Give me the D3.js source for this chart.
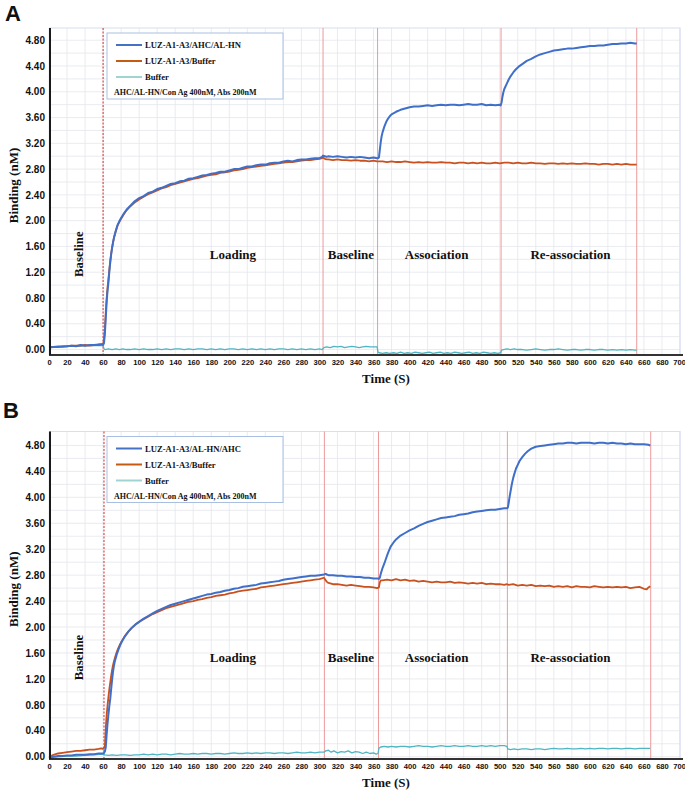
<!DOCTYPE html>
<html>
<head>
<meta charset="utf-8">
<script src="https://cdnjs.cloudflare.com/ajax/libs/d3/7.8.5/d3.min.js"></script>
<style>
  body { margin: 0; background: #fff; }
  svg text { font-family: "Liberation Serif", "Times New Roman", serif; font-weight: bold; fill: #111; }
  .ytick text, .xtick text, .tag { font-family: "Liberation Sans", Arial, sans-serif; font-weight: bold; }
</style>
</head>
<body>
<svg id="chart" width="685" height="793"></svg>
<script>
// ---- ticks ----
const xTicks = [0,20,40,60,80,100,120,140,160,180,200,220,240,260,280,300,320,340,360,380,400,420,440,460,480,500,520,540,560,580,600,620,640,660,680,700];
const yTicks = [0,0.4,0.8,1.2,1.6,2.0,2.4,2.8,3.2,3.6,4.0,4.4,4.8];
const yGrid = [0,0.2,0.4,0.6,0.8,1.0,1.2,1.4,1.6,1.8,2.0,2.2,2.4,2.6,2.8,3.0,3.2,3.4,3.6,3.8,4.0,4.2,4.4,4.6,4.8];

// ---- phase boundaries (s) ----
const phaseA = [60, 304, 364.5, 501.5, 652];
const phaseB = [61, 305.5, 365.5, 508.5, 667.5];

const namesA = ["LUZ-A1-A3/AHC/AL-HN", "LUZ-A1-A3/Buffer", "Buffer"];
const namesB = ["LUZ-A1-A3/AL-HN/AHC", "LUZ-A1-A3/Buffer", "Buffer"];
const note = "AHC/AL-HN/Con Ag 400nM, Abs 200nM";
const phaseNames = ["Baseline", "Loading", "Baseline", "Association", "Re-association"];

// ---- panel A series [time, nM] ----
const blueA = [[0,0.03],[5,0.04],[10,0.04],[15,0.05],[20,0.05],[25,0.06],[30,0.05],[35,0.07],[40,0.06],[45,0.07],[50,0.07],[55,0.08],[59,0.08],[60,0.07],[61,0.10],[62,0.25],[63,0.50],[64,0.75],[65,0.92],[66,1.05],[67,1.22],[68,1.36],[69,1.48],[70,1.58],[71,1.66],[72,1.73],[74,1.84],[76,1.93],[78,1.99],[80,2.04],[83,2.11],[86,2.17],[90,2.23],[95,2.30],[100,2.35],[105,2.38],[110,2.43],[115,2.45],[120,2.49],[125,2.51],[130,2.54],[135,2.57],[140,2.58],[145,2.61],[150,2.62],[155,2.65],[160,2.66],[165,2.68],[170,2.70],[175,2.71],[180,2.73],[185,2.74],[190,2.76],[195,2.76],[200,2.78],[205,2.80],[210,2.80],[215,2.82],[220,2.84],[225,2.84],[230,2.86],[235,2.87],[240,2.87],[245,2.89],[250,2.90],[255,2.90],[260,2.92],[265,2.93],[270,2.92],[275,2.94],[280,2.95],[285,2.95],[290,2.96],[295,2.97],[300,2.97],[303,2.99],[304,3.01],[306,3.00],[308,2.99],[310,3.00],[315,2.99],[320,3.00],[325,2.99],[330,2.98],[335,2.99],[340,2.98],[345,2.99],[350,2.98],[355,2.97],[360,2.98],[364,2.97],[365,2.97],[366,2.98],[367,3.10],[368,3.22],[369,3.31],[370,3.37],[372,3.46],[374,3.53],[376,3.58],[378,3.62],[380,3.65],[385,3.69],[390,3.72],[395,3.74],[400,3.76],[405,3.77],[410,3.77],[415,3.78],[420,3.79],[425,3.78],[430,3.79],[435,3.80],[440,3.79],[445,3.80],[450,3.80],[455,3.79],[460,3.80],[465,3.81],[470,3.80],[475,3.80],[480,3.81],[485,3.79],[490,3.80],[495,3.79],[500,3.80],[501,3.79],[502,3.83],[503,3.92],[504,3.99],[505,4.04],[506,4.07],[508,4.13],[510,4.19],[512,4.24],[515,4.30],[518,4.35],[521,4.39],[525,4.43],[530,4.48],[535,4.51],[540,4.55],[545,4.58],[550,4.60],[555,4.62],[560,4.64],[565,4.65],[570,4.66],[575,4.67],[580,4.67],[585,4.68],[590,4.69],[595,4.70],[600,4.71],[605,4.71],[610,4.72],[615,4.72],[620,4.73],[625,4.74],[630,4.74],[635,4.75],[640,4.75],[645,4.76],[650,4.75],[652,4.75]];

const redA = [[0,0.04],[5,0.04],[10,0.05],[15,0.04],[20,0.05],[25,0.06],[30,0.06],[35,0.06],[40,0.07],[45,0.06],[50,0.07],[55,0.07],[59,0.08],[60,0.08],[61,0.15],[62,0.32],[63,0.58],[64,0.80],[65,0.97],[66,1.10],[67,1.25],[68,1.38],[69,1.49],[70,1.58],[71,1.66],[72,1.73],[74,1.83],[76,1.92],[78,1.98],[80,2.03],[83,2.10],[86,2.16],[90,2.22],[95,2.28],[100,2.33],[105,2.37],[110,2.41],[115,2.44],[120,2.47],[125,2.50],[130,2.52],[135,2.55],[140,2.57],[145,2.59],[150,2.61],[155,2.63],[160,2.65],[165,2.66],[170,2.68],[175,2.70],[180,2.71],[185,2.72],[190,2.74],[195,2.75],[200,2.76],[205,2.78],[210,2.79],[215,2.80],[220,2.82],[225,2.83],[230,2.84],[235,2.85],[240,2.86],[245,2.87],[250,2.88],[255,2.89],[260,2.90],[265,2.91],[270,2.91],[275,2.92],[280,2.93],[285,2.94],[290,2.94],[295,2.95],[300,2.96],[303,2.97],[304,2.98],[306,2.96],[308,2.95],[310,2.95],[315,2.94],[320,2.95],[325,2.94],[330,2.94],[335,2.93],[340,2.94],[345,2.93],[350,2.93],[355,2.92],[360,2.93],[364,2.92],[370,2.92],[375,2.91],[380,2.92],[385,2.91],[390,2.91],[395,2.92],[400,2.91],[405,2.90],[410,2.91],[415,2.90],[420,2.91],[425,2.90],[430,2.90],[435,2.91],[440,2.90],[445,2.90],[450,2.89],[455,2.90],[460,2.90],[465,2.89],[470,2.90],[475,2.89],[480,2.90],[485,2.89],[490,2.89],[495,2.90],[500,2.89],[505,2.90],[510,2.90],[515,2.89],[520,2.90],[525,2.89],[530,2.89],[535,2.90],[540,2.89],[545,2.89],[550,2.88],[555,2.89],[560,2.89],[565,2.88],[570,2.89],[575,2.88],[580,2.89],[585,2.88],[590,2.88],[595,2.89],[600,2.88],[605,2.88],[610,2.87],[615,2.88],[620,2.88],[625,2.87],[630,2.88],[635,2.87],[640,2.88],[645,2.87],[650,2.87],[652,2.87]];

const cyanA = [[0,0.03],[10,0.04],[20,0.05],[30,0.05],[40,0.06],[50,0.06],[60,0.06],[61,0.01],[62,0.00],[66,0.01],[70,0.00],[74,0.01],[78,0.00],[82,0.01],[86,0.00],[90,0.00],[95,0.01],[100,0.00],[105,0.01],[110,0.00],[115,0.00],[120,0.01],[125,0.00],[130,0.01],[135,0.00],[140,0.01],[145,0.01],[150,0.00],[155,0.01],[160,0.00],[165,0.01],[170,0.01],[175,0.00],[180,0.01],[185,0.00],[190,0.01],[195,0.00],[200,0.01],[205,0.01],[210,0.00],[215,0.01],[220,0.00],[225,0.01],[230,0.00],[235,0.01],[240,0.00],[245,0.01],[250,0.00],[255,0.01],[260,0.01],[265,0.00],[270,0.01],[275,0.00],[280,0.01],[285,0.00],[290,0.01],[295,0.00],[300,0.01],[303,0.00],[305,0.03],[308,0.04],[312,0.03],[316,0.05],[320,0.04],[324,0.05],[328,0.03],[332,0.04],[336,0.05],[340,0.04],[344,0.03],[348,0.04],[352,0.05],[356,0.04],[360,0.04],[364,0.04],[365,-0.04],[366,-0.05],[370,-0.06],[374,-0.05],[378,-0.06],[382,-0.05],[386,-0.06],[390,-0.04],[394,-0.06],[398,-0.05],[402,-0.06],[406,-0.04],[410,-0.05],[414,-0.06],[418,-0.05],[422,-0.04],[426,-0.06],[430,-0.05],[434,-0.04],[438,-0.06],[442,-0.05],[446,-0.06],[450,-0.04],[454,-0.05],[458,-0.06],[462,-0.05],[466,-0.04],[470,-0.06],[474,-0.05],[478,-0.06],[482,-0.04],[486,-0.05],[490,-0.06],[494,-0.05],[498,-0.06],[501,-0.05],[502,-0.01],[504,0.00],[508,0.01],[512,0.00],[516,0.01],[520,0.00],[525,0.00],[530,-0.01],[535,0.00],[540,0.01],[545,0.00],[550,-0.01],[555,0.00],[560,0.00],[565,0.01],[570,0.00],[575,-0.01],[580,0.00],[585,0.00],[590,-0.01],[595,0.00],[600,0.00],[605,-0.01],[610,0.00],[615,0.00],[620,-0.01],[625,0.00],[630,-0.01],[635,0.00],[640,-0.01],[645,0.00],[650,-0.01],[652,-0.01]];

// ---- panel B series [time, nM] ----
const blueB = [[0,-0.02],[5,0.00],[10,0.01],[15,0.01],[20,0.02],[25,0.02],[30,0.03],[35,0.03],[40,0.03],[45,0.04],[50,0.04],[55,0.05],[60,0.05],[61,0.06],[62,0.08],[63,0.15],[64,0.35],[65,0.52],[66,0.66],[67,0.79],[68,0.90],[69,1.05],[70,1.19],[71,1.31],[72,1.40],[73,1.47],[75,1.57],[77,1.65],[79,1.72],[81,1.78],[84,1.85],[88,1.93],[92,1.99],[96,2.04],[100,2.08],[105,2.13],[110,2.17],[115,2.21],[120,2.25],[125,2.28],[130,2.31],[135,2.34],[140,2.36],[145,2.38],[150,2.40],[155,2.42],[160,2.44],[165,2.46],[170,2.48],[175,2.50],[180,2.51],[185,2.53],[190,2.54],[195,2.56],[200,2.57],[205,2.59],[210,2.60],[215,2.62],[220,2.63],[225,2.64],[230,2.65],[235,2.67],[240,2.68],[245,2.69],[250,2.70],[255,2.71],[260,2.73],[265,2.74],[270,2.75],[275,2.76],[280,2.77],[285,2.78],[290,2.79],[295,2.79],[300,2.80],[305,2.81],[307,2.82],[308,2.81],[310,2.80],[315,2.80],[320,2.79],[325,2.79],[330,2.78],[335,2.78],[340,2.77],[345,2.77],[350,2.76],[355,2.76],[360,2.75],[365,2.75],[366,2.74],[367,2.76],[368,2.82],[370,2.91],[372,2.98],[374,3.06],[376,3.14],[379,3.24],[382,3.30],[385,3.35],[390,3.41],[395,3.45],[400,3.49],[405,3.52],[410,3.56],[415,3.59],[420,3.62],[425,3.64],[430,3.66],[435,3.68],[440,3.69],[445,3.70],[450,3.71],[455,3.73],[460,3.74],[465,3.75],[470,3.77],[475,3.78],[480,3.79],[485,3.80],[490,3.81],[495,3.81],[500,3.82],[505,3.83],[508,3.83],[509,3.84],[510,3.92],[511,4.01],[512,4.09],[513,4.17],[514,4.24],[515,4.30],[516,4.35],[518,4.44],[520,4.50],[522,4.56],[525,4.62],[528,4.67],[531,4.71],[535,4.75],[540,4.78],[545,4.79],[550,4.80],[555,4.81],[560,4.82],[565,4.83],[570,4.83],[575,4.84],[580,4.84],[585,4.83],[590,4.84],[595,4.84],[600,4.84],[605,4.83],[610,4.84],[615,4.84],[620,4.83],[625,4.84],[630,4.83],[635,4.83],[640,4.82],[645,4.83],[650,4.82],[655,4.82],[660,4.82],[665,4.81],[667,4.80]];

const redB = [[0,0.00],[5,0.03],[10,0.05],[15,0.06],[20,0.07],[25,0.08],[30,0.09],[35,0.09],[40,0.10],[45,0.11],[50,0.11],[55,0.12],[58,0.13],[60,0.12],[61,0.14],[62,0.16],[63,0.45],[64,0.65],[65,0.80],[66,0.93],[67,1.05],[68,1.15],[69,1.25],[70,1.34],[71,1.41],[72,1.47],[73,1.52],[75,1.61],[77,1.68],[79,1.74],[81,1.79],[84,1.86],[88,1.93],[92,1.99],[96,2.04],[100,2.08],[105,2.12],[110,2.16],[115,2.20],[120,2.23],[125,2.26],[130,2.29],[135,2.31],[140,2.33],[145,2.35],[150,2.37],[155,2.39],[160,2.40],[165,2.42],[170,2.43],[175,2.45],[180,2.46],[185,2.48],[190,2.49],[195,2.50],[200,2.52],[205,2.53],[210,2.55],[215,2.56],[220,2.57],[225,2.58],[230,2.59],[235,2.61],[240,2.62],[245,2.63],[250,2.64],[255,2.65],[260,2.66],[265,2.67],[270,2.68],[275,2.69],[280,2.70],[285,2.71],[290,2.72],[295,2.73],[300,2.74],[305,2.76],[306,2.74],[308,2.70],[310,2.68],[315,2.66],[320,2.66],[325,2.65],[330,2.64],[335,2.65],[340,2.64],[345,2.63],[350,2.62],[355,2.62],[360,2.61],[364,2.60],[366,2.61],[367,2.69],[368,2.72],[370,2.72],[375,2.73],[380,2.72],[385,2.74],[390,2.72],[395,2.73],[400,2.71],[405,2.72],[410,2.70],[415,2.71],[420,2.70],[425,2.69],[430,2.70],[435,2.69],[440,2.69],[445,2.70],[450,2.68],[455,2.69],[460,2.68],[465,2.67],[470,2.68],[475,2.67],[480,2.68],[485,2.66],[490,2.67],[495,2.66],[500,2.66],[505,2.65],[508,2.66],[510,2.65],[515,2.66],[520,2.64],[525,2.65],[530,2.64],[535,2.65],[540,2.63],[545,2.64],[550,2.63],[555,2.64],[560,2.62],[565,2.63],[570,2.62],[575,2.63],[580,2.61],[585,2.63],[590,2.62],[595,2.62],[600,2.61],[605,2.63],[610,2.62],[615,2.61],[620,2.62],[625,2.61],[630,2.62],[635,2.61],[640,2.62],[645,2.60],[650,2.61],[655,2.62],[660,2.59],[663,2.58],[665,2.61],[667,2.63]];

const cyanB = [[0,-0.01],[10,0.00],[20,0.01],[30,0.01],[40,0.02],[50,0.03],[60,0.04],[62,0.03],[66,0.02],[70,0.03],[75,0.02],[80,0.03],[85,0.03],[90,0.02],[95,0.03],[100,0.03],[105,0.04],[110,0.03],[115,0.04],[120,0.03],[125,0.04],[130,0.04],[135,0.03],[140,0.04],[145,0.05],[150,0.04],[155,0.04],[160,0.05],[165,0.04],[170,0.05],[175,0.05],[180,0.04],[185,0.05],[190,0.05],[195,0.04],[200,0.05],[205,0.06],[210,0.05],[215,0.05],[220,0.06],[225,0.05],[230,0.06],[235,0.05],[240,0.06],[245,0.06],[250,0.05],[255,0.06],[260,0.06],[265,0.05],[270,0.06],[275,0.07],[280,0.06],[285,0.06],[290,0.07],[295,0.06],[300,0.07],[305,0.07],[307,0.09],[310,0.10],[313,0.07],[316,0.09],[320,0.06],[324,0.08],[328,0.07],[332,0.09],[336,0.06],[340,0.08],[344,0.07],[348,0.05],[352,0.07],[356,0.05],[360,0.06],[363,0.04],[365,0.05],[366,0.13],[368,0.15],[372,0.16],[376,0.15],[380,0.16],[385,0.15],[390,0.16],[395,0.16],[400,0.15],[405,0.16],[410,0.17],[415,0.16],[420,0.16],[425,0.15],[430,0.16],[435,0.17],[440,0.16],[445,0.16],[450,0.17],[455,0.16],[460,0.16],[465,0.17],[470,0.16],[475,0.16],[480,0.17],[485,0.16],[490,0.17],[495,0.16],[500,0.17],[505,0.17],[508,0.16],[509,0.12],[512,0.11],[516,0.12],[520,0.11],[525,0.12],[530,0.12],[535,0.11],[540,0.12],[545,0.12],[550,0.11],[555,0.12],[560,0.13],[565,0.12],[570,0.12],[575,0.13],[580,0.12],[585,0.12],[590,0.13],[595,0.12],[600,0.13],[605,0.12],[610,0.13],[615,0.13],[620,0.12],[625,0.13],[630,0.13],[635,0.12],[640,0.13],[645,0.13],[650,0.12],[655,0.13],[660,0.13],[665,0.13],[667,0.13]];

const colors = ["#3f6fc8", "#c8511f", "#4fb5c2"];
const legendColors = ["#4472c4", "#c55a11", "#9fd4d0"];

const svg = d3.select("#chart");

function drawPanel(p) {
    const x = d3.scaleLinear().domain([0, 700]).range([49, 680]);
    const y = d3.scaleLinear().domain(p.yDomain).range([p.bottom, p.top]);
    const g = svg.append("g");

    // grid
    g.selectAll(".vgrid").data(xTicks).join("line")
        .attr("x1", d => x(d)).attr("x2", d => x(d))
        .attr("y1", p.top).attr("y2", p.bottom)
        .attr("stroke", "#e5e6ec").attr("stroke-width", 0.8);
    g.selectAll(".hgrid").data(yGrid).join("line")
        .attr("x1", x(0)).attr("x2", x(700))
        .attr("y1", d => y(d)).attr("y2", d => y(d))
        .attr("stroke", "#e5e6ec").attr("stroke-width", 0.8);
    // light frame top / right
    g.append("path")
        .attr("d", `M${x(0)},${p.top}H${x(700)}V${p.bottom}`)
        .attr("fill", "none").attr("stroke", "#d6e0f0").attr("stroke-width", 1.2);

    // phase boundaries
    g.selectAll(".phase").data(p.phases).join("line")
        .attr("x1", d => x(d)).attr("x2", d => x(d))
        .attr("y1", p.top).attr("y2", p.bottom)
        .attr("stroke", (d, i) => i === 0 ? "#d42a2a" : "#ec9a9a")
        .attr("stroke-width", 1)
        .attr("stroke-dasharray", (d, i) => i === 0 ? "2,1.5" : null);

    // series
    const line = d3.line().x(d => x(d[0])).y(d => y(d[1]));
    const widths = [2, 1.8, 1.3];
    [2, 1, 0].forEach(k => {
        g.append("path").datum(p.series[k])
            .attr("d", line)
            .attr("fill", "none")
            .attr("stroke", colors[k])
            .attr("stroke-width", widths[k])
            .attr("stroke-linejoin", "round");
    });

    // axes
    const ya = g.append("g").attr("class", "ytick")
        .attr("transform", `translate(${x(0)},0)`)
        .call(d3.axisLeft(y).tickValues(yTicks).tickSize(0).tickPadding(4).tickFormat(d3.format(".2f")));
    ya.select(".domain").remove();
    ya.selectAll("text").attr("font-size", 10).attr("fill", "#222");

    const xa = g.append("g").attr("class", "xtick")
        .attr("transform", `translate(0,${p.bottom})`)
        .call(d3.axisBottom(x).tickValues(xTicks).tickSize(0).tickPadding(5));
    xa.select(".domain").remove();
    xa.selectAll("text").attr("font-size", 7.6).attr("fill", "#222");
    // keep the last label inside the page
    xa.selectAll("text").filter(d => d === 700)
        .attr("text-anchor", "end").attr("dx", 5.5);

    g.append("line").attr("x1", x(0)).attr("x2", 683)
        .attr("y1", p.bottom).attr("y2", p.bottom)
        .attr("stroke", "#333").attr("stroke-width", 1.8);
    g.append("line").attr("x1", x(0) + 1).attr("x2", x(0) + 1)
        .attr("y1", p.top).attr("y2", p.bottom)
        .attr("stroke", "#1a1a1a").attr("stroke-width", 2);

    // titles
    const midY = (p.top + p.bottom) / 2;
    g.append("text")
        .attr("transform", `translate(18,${midY - 6}) rotate(-90)`)
        .attr("text-anchor", "middle").attr("font-size", 13)
        .text("Binding (nM)");
    g.append("text")
        .attr("x", 386).attr("y", p.bottom + 28)
        .attr("text-anchor", "middle").attr("font-size", 13)
        .text("Time (S)");
    g.append("text").attr("class", "tag")
        .attr("x", p.tagX).attr("y", p.tagY)
        .attr("font-size", 22)
        .text(p.tag);

    // phase labels
    const vy = y(p.labelY);
    g.append("text")
        .attr("transform", `translate(${x(33) + 4},${vy}) rotate(-90)`)
        .attr("text-anchor", "middle").attr("font-size", 12.8)
        .text(phaseNames[0]);
    [[204, 1], [335, 2], [430, 3], [578.5, 4]].forEach(([t, i]) => {
        g.append("text")
            .attr("x", x(t)).attr("y", vy + 4.5)
            .attr("text-anchor", "middle").attr("font-size", 13)
            .text(phaseNames[i]);
    });

    // legend
    const lg = g.append("g").attr("transform", `translate(107,${p.top + 5})`);
    lg.append("rect").attr("width", 176).attr("height", 66)
        .attr("fill", "#fff").attr("stroke", "#a9bfe2").attr("stroke-width", 1);
    p.names.forEach((n, i) => {
        const ly = 12 + i * 16;
        lg.append("line").attr("x1", 9).attr("x2", 35)
            .attr("y1", ly).attr("y2", ly)
            .attr("stroke", legendColors[i]).attr("stroke-width", 2);
        lg.append("text").attr("x", 38).attr("y", ly + 3)
            .attr("font-size", 8.6).text(n);
    });
    lg.append("text").attr("x", 7).attr("y", 62)
        .attr("font-size", 8).text(note);
}

drawPanel({
    top: 28, bottom: 355, yDomain: [-0.085, 4.99],
    phases: phaseA, series: [blueA, redA, cyanA], names: namesA,
    tag: "A", tagX: 5, tagY: 21, labelY: 1.48
});
drawPanel({
    top: 431.5, bottom: 759, yDomain: [-0.035, 5.015],
    phases: phaseB, series: [blueB, redB, cyanB], names: namesB,
    tag: "B", tagX: 3, tagY: 418, labelY: 1.53
});
</script>
</body>
</html>
